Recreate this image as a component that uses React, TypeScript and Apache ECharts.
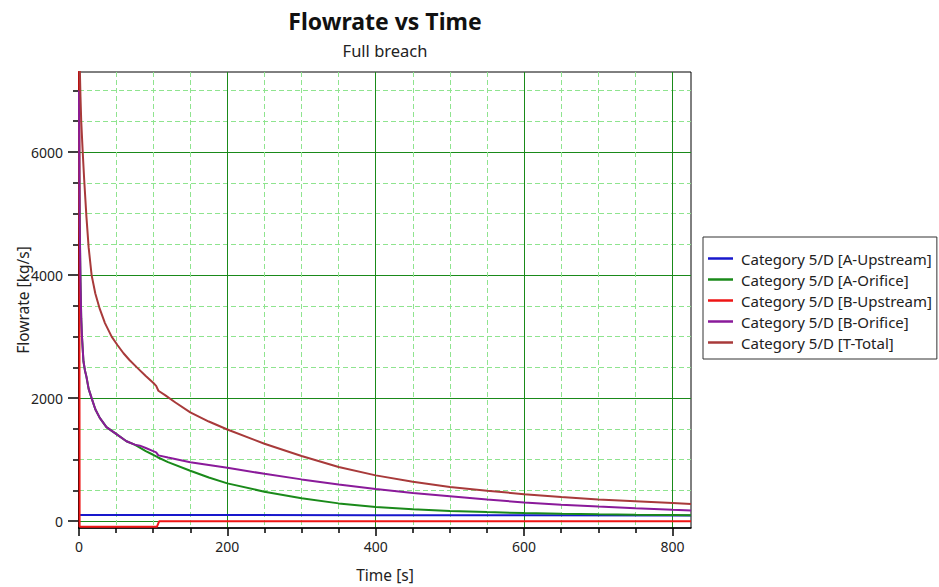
import React, { useEffect, useRef } from "react";
import * as echarts from "echarts";

// ---- tick labels / gridline positions ----
const xMajorTicks = [0, 200, 400, 600, 800];
const xMinorTicks = [50, 100, 150, 250, 300, 350, 450, 500, 550, 650, 700, 750];
const yMajorTicks = [0, 2000, 4000, 6000];
const yMinorTicks = [500, 1000, 1500, 2500, 3000, 3500, 4500, 5000, 5500, 6500, 7000];

// ---- series data ----
const seriesNames = [
  "Category 5/D [A-Upstream]",
  "Category 5/D [A-Orifice]",
  "Category 5/D [B-Upstream]",
  "Category 5/D [B-Orifice]",
  "Category 5/D [T-Total]",
];

const timeAUp = [0, 200, 400, 600, 825];
const flowAUp = [100, 100, 99, 97, 95];

const timeAOr = [0, 0.5, 1, 2, 3, 4, 6, 8, 10, 13, 17, 22, 28, 37, 50, 64, 75, 82, 90, 100, 106, 120, 150, 175, 200, 250, 300, 350, 400, 450, 500, 550, 600, 650, 700, 750, 800, 825];
const flowAOr = [7000, 5600, 4800, 3900, 3300, 3000, 2600, 2450, 2350, 2150, 2000, 1820, 1680, 1530, 1420, 1300, 1245, 1195, 1140, 1080, 1040, 960, 820, 710, 615, 480, 375, 290, 231, 195, 168, 148, 133, 121, 112, 105, 100, 98];

const timeBUp = [0, 0.8, 105, 108, 300, 600, 825];
const flowBUp = [12000, -90, -90, -2, -2, -1, 0];

const timeBOr = [0, 0.5, 1, 2, 3, 4, 6, 8, 10, 13, 17, 22, 28, 37, 50, 64, 75, 82, 90, 100, 104, 107, 120, 150, 175, 200, 250, 300, 350, 400, 450, 500, 550, 600, 650, 700, 750, 800, 825];
const flowBOr = [7000, 5600, 4800, 3900, 3300, 3000, 2600, 2450, 2350, 2150, 2000, 1820, 1680, 1530, 1420, 1300, 1245, 1228, 1190, 1140, 1120, 1070, 1035, 960, 915, 870, 770, 680, 597, 523, 460, 405, 352, 306, 268, 238, 210, 187, 176];

const timeTot = [0, 1, 2, 3, 5, 7, 10, 13, 17, 22, 28, 35, 44, 52, 60, 68, 78, 90, 100, 104, 107, 116, 130, 150, 175, 200, 250, 300, 350, 400, 450, 500, 550, 600, 650, 700, 750, 800, 825];
const flowTot = [12000, 7400, 6900, 6500, 6000, 5550, 4950, 4450, 4000, 3700, 3450, 3220, 3000, 2860, 2730, 2620, 2500, 2360, 2250, 2200, 2120, 2050, 1930, 1770, 1620, 1490, 1260, 1060, 880, 745, 640, 555, 495, 440, 395, 355, 325, 296, 282];

const seriesTimes = [timeAUp, timeAOr, timeBUp, timeBOr, timeTot];
const seriesFlows = [flowAUp, flowAOr, flowBUp, flowBOr, flowTot];
const seriesColors = ["#1818cc", "#1a8a1a", "#ee1515", "#8a1a9a", "#a83a3a"];

const FONT = "Noto Sans";

export default function App() {
  const ref = useRef<HTMLDivElement>(null);
  useEffect(() => {
    if (!ref.current) return;
    const chart = echarts.init(ref.current, null, { renderer: "svg" });
    const axisCommonX = { type: "value", min: 0, max: 825, position: "bottom" };
    const axisCommonY = { type: "value", min: -110, max: 7300, position: "left" };
    const plain = (v: number) => String(v);
    chart.setOption({
      animation: false,
      backgroundColor: "#ffffff",
      graphic: [
        {
          type: "text",
          x: 385,
          y: 21,
          style: {
            text: "Flowrate vs Time",
            align: "center",
            verticalAlign: "middle",
            fontFamily: FONT,
            fontSize: 23,
            fontWeight: "bold",
            fill: "#111",
          },
        },
        {
          type: "text",
          x: 385,
          y: 50,
          style: {
            text: "Full breach",
            align: "center",
            verticalAlign: "middle",
            fontFamily: FONT,
            fontSize: 16.5,
            fill: "#222",
          },
        },
      ],
      grid: {
        left: 79,
        top: 72,
        right: 248,
        bottom: 59,
        show: true,
        borderColor: "#000",
        borderWidth: 1,
        backgroundColor: "#fff",
        containLabel: false,
        outerBoundsMode: "none",
      },
      legend: {
        orient: "vertical",
        left: 703,
        top: 237,
        padding: [14, 5, 9, 5],
        itemGap: 6,
        itemWidth: 25,
        itemHeight: 2.5,
        icon: "rect",
        borderColor: "#333",
        borderWidth: 1,
        textStyle: { fontFamily: FONT, fontSize: 15, lineHeight: 14, color: "#222", padding: [0, 0, 0, 3] },
        data: seriesNames,
      },
      xAxis: [
        {
          ...axisCommonX,
          name: "Time [s]",
          nameLocation: "middle",
          nameGap: 39,
          nameMoveOverlap: false,
          nameTextStyle: { fontFamily: FONT, fontSize: 15.5, color: "#222" },
          axisLine: { show: true, onZero: false, lineStyle: { color: "#000", width: 1.5 } },
          axisTick: { show: true, customValues: xMajorTicks, length: 8, lineStyle: { color: "#000", width: 1.5 } },
          axisLabel: { customValues: xMajorTicks, formatter: plain, margin: 11, fontFamily: FONT, fontSize: 14, color: "#222" },
          splitLine: { show: true, lineStyle: { color: "#1a8a1a", width: 1 } },
        },
        {
          ...axisCommonX,
          axisLine: { show: false, onZero: false },
          axisTick: { show: true, customValues: xMinorTicks, length: 5, lineStyle: { color: "#000", width: 1.5 } },
          axisLabel: { show: false },
          splitLine: { show: true, lineStyle: { color: "#8fe48f", width: 1, type: [5, 3] } },
        },
      ],
      yAxis: [
        {
          ...axisCommonY,
          name: "Flowrate [kg/s]",
          nameLocation: "middle",
          nameGap: 48,
          nameMoveOverlap: false,
          nameTextStyle: { fontFamily: FONT, fontSize: 15.5, color: "#222" },
          axisLine: { show: true, onZero: false, lineStyle: { color: "#000", width: 2 } },
          axisTick: { show: true, customValues: yMajorTicks, length: 11, lineStyle: { color: "#000", width: 1.5 } },
          axisLabel: { customValues: yMajorTicks, formatter: plain, margin: 16, fontFamily: FONT, fontSize: 14, color: "#222" },
          splitLine: { show: true, lineStyle: { color: "#1a8a1a", width: 1 } },
        },
        {
          ...axisCommonY,
          axisLine: { show: false, onZero: false },
          axisTick: { show: true, customValues: yMinorTicks, length: 6, lineStyle: { color: "#000", width: 1.5 } },
          axisLabel: { show: false },
          splitLine: { show: true, lineStyle: { color: "#8fe48f", width: 1, type: [5, 3] } },
        },
      ],
      series: seriesNames.map((name, i) => ({
        name,
        type: "line",
        xAxisIndex: 0,
        yAxisIndex: 0,
        symbol: "none",
        clip: true,
        color: seriesColors[i],
        lineStyle: { color: seriesColors[i], width: 2 },
        data: seriesTimes[i].map((t, j) => [t, seriesFlows[i][j]]),
      })),
    });
    return () => chart.dispose();
  }, []);
  return <div ref={ref} style={{ width: 939, height: 587, position: "absolute", left: 0, top: 0 }} />;
}
